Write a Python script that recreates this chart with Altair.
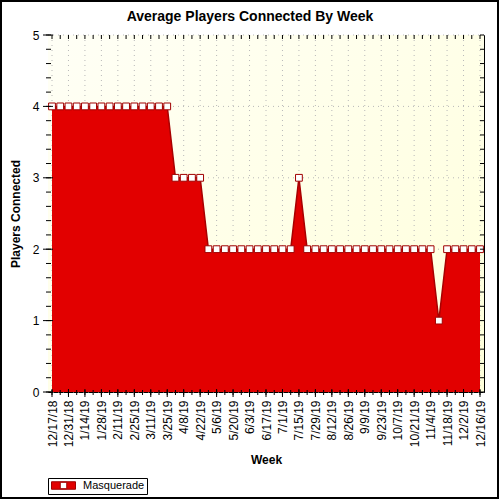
import altair as alt
import pandas as pd

# ---- data ----
weeks = ["12/17/18", "12/24/18", "12/31/18", "1/7/19", "1/14/19", "1/21/19", "1/28/19",
         "2/4/19", "2/11/19", "2/18/19", "2/25/19", "3/4/19", "3/11/19", "3/18/19", "3/25/19",
         "4/1/19", "4/8/19", "4/15/19", "4/22/19", "4/29/19", "5/6/19", "5/13/19", "5/20/19",
         "5/27/19", "6/3/19", "6/10/19", "6/17/19", "6/24/19", "7/1/19", "7/8/19", "7/15/19",
         "7/22/19", "7/29/19", "8/5/19", "8/12/19", "8/19/19", "8/26/19", "9/2/19", "9/9/19",
         "9/16/19", "9/23/19", "9/30/19", "10/7/19", "10/14/19", "10/21/19", "10/28/19",
         "11/4/19", "11/11/19", "11/18/19", "11/25/19", "12/2/19", "12/9/19", "12/16/19"]
players = [4, 4, 4, 4, 4, 4, 4, 4, 4, 4, 4, 4, 4, 4, 4,
           3, 3, 3, 3,
           2, 2, 2, 2, 2, 2, 2, 2, 2, 2, 2,
           3,
           2, 2, 2, 2, 2, 2, 2, 2, 2, 2, 2, 2, 2, 2, 2, 2,
           1,
           2, 2, 2, 2, 2]
series_name = "Masquerade"
y_major = [0, 1, 2, 3, 4, 5]
y_minor = [round(i * 0.2, 1) for i in range(26)]

W, H = 436, 357
df = pd.DataFrame({"idx": list(range(len(weeks))), "week": weeks,
                   "players": players, "series": series_name})
label_idx = list(range(0, len(weeks), 2))
df_major_x = pd.DataFrame({"idx": label_idx})
df_all_x = pd.DataFrame({"idx": list(range(len(weeks)))})
df_major_y = pd.DataFrame({"v": y_major})
df_minor_y = pd.DataFrame({"v": y_minor})

label_expr = "[" + ",".join("'" + w + "'" for w in weeks) + "][datum.value]"

font = "Liberation Sans"
xs = alt.Scale(domain=[0, len(weeks) - 1], nice=False, padding=4, zero=False)
ys = alt.Scale(domain=[0, 5], nice=False)
X_AX = alt.Axis(values=label_idx, labelExpr=label_expr, labelAngle=270,
                labelAlign="right", labelBaseline="middle", labelPadding=8,
                ticks=False, tickSize=0, grid=False, domainColor="black",
                title="Week", titleFontWeight="bold", titleFontSize=12,
                titlePadding=8, labelFont=font, labelFontSize=12, titleFont=font,
                labelColor="black", titleColor="black", labelFlush=False,
                labelOverlap=False)
Y_AX = alt.Axis(values=y_major, format="d", ticks=False, tickSize=0, grid=False,
                labelPadding=9, domainColor="black", title="Players Connected",
                titleFontWeight="bold", titleFontSize=12, titlePadding=10,
                labelFont=font, labelFontSize=12, titleFont=font,
                labelColor="black", titleColor="black", labelOverlap=False)


def X(field):
    return alt.X(field, scale=xs, axis=X_AX)


def Y(field):
    return alt.Y(field, scale=ys, axis=Y_AX)


bg = alt.Chart(pd.DataFrame({"a": [0]})).mark_rect(
    fill=alt.Gradient(gradient="linear", x1=0, x2=1, y1=0, y2=1,
                      stops=[alt.GradientStop(color="#FFFFF6", offset=0),
                             alt.GradientStop(color="#FFFFDA", offset=1)])
).encode(x=alt.value(0), x2=alt.value(W), y=alt.value(0), y2=alt.value(H))

vgrid = alt.Chart(df_major_x).mark_rule(color="#B8B8B8", strokeDash=[1, 4], strokeWidth=1).encode(
    x=X("idx:Q"), y=alt.value(0), y2=alt.value(H))
hgrid = alt.Chart(df_major_y).mark_rule(color="#B8B8B8", strokeDash=[1, 4], strokeWidth=1).encode(
    y=Y("v:Q"), x=alt.value(0), x2=alt.value(W))

area = alt.Chart(df).mark_area(opacity=1).encode(
    x=X("idx:Q"),
    y=Y("players:Q"),
    color=alt.Color("series:N", scale=alt.Scale(range=["#E20000"]),
                    legend=alt.Legend(
                        title=None, orient="none", legendX=0, legendY=443,
                        symbolType="M-2.4,-0.75H2.4V0.75H-2.4Z M-0.65,-0.65V0.65H0.65V-0.65Z",
                        symbolSize=100, symbolStrokeColor="#A00000", symbolStrokeWidth=1,
                        symbolOpacity=1,
                        labelFont=font, labelFontSize=11, labelColor="black",
                        strokeColor="black", padding=2, fillColor="white",
                        labelOffset=14, symbolOffset=8))
)

line = alt.Chart(df).mark_line(color="#A80000", strokeWidth=1.5).encode(
    x=X("idx:Q"), y=Y("players:Q"))

points = alt.Chart(df).mark_point(shape="square", filled=True, fill="white",
                                  stroke="#A00000", strokeWidth=1, size=46, opacity=1).encode(
    x=X("idx:Q"), y=Y("players:Q"))

# tick marks (crossing bottom/left axes, inward on top/right)
bt_major = alt.Chart(df_major_x).mark_rule(color="black").encode(
    x=X("idx:Q"), y=alt.value(H - 3), y2=alt.value(H + 5))
bt_all = alt.Chart(df_all_x).mark_rule(color="black").encode(
    x=X("idx:Q"), y=alt.value(H - 2), y2=alt.value(H + 3))
tt_all = alt.Chart(df_all_x).mark_rule(color="black").encode(
    x=X("idx:Q"), y=alt.value(0), y2=alt.value(4))
lt_major = alt.Chart(df_major_y).mark_rule(color="black").encode(
    y=Y("v:Q"), x=alt.value(-5), x2=alt.value(5))
lt_minor = alt.Chart(df_minor_y).mark_rule(color="black").encode(
    y=Y("v:Q"), x=alt.value(-2), x2=alt.value(3))
rt_minor = alt.Chart(df_minor_y).mark_rule(color="black").encode(
    y=Y("v:Q"), x=alt.value(W - 4), x2=alt.value(W))

frame = alt.Chart(pd.DataFrame({"a": [0]})).mark_rect(
    fill=None, stroke="black", strokeWidth=2, filled=False
).encode(x=alt.value(-47), x2=alt.value(450), y=alt.value(-34), y2=alt.value(463))

chart = alt.layer(bg, vgrid, hgrid, area, line, points,
                  bt_major, bt_all, tt_all, lt_major, lt_minor, rt_minor, frame).properties(
    width=W, height=H,
    title=alt.Title("Average Players Connected By Week", font=font, fontSize=14,
                    fontWeight="bold", color="black", anchor="middle", dx=-16, offset=-24,
                    frame="group"),
    autosize=alt.AutoSizeParams(type="none"),
    padding={"left": 48, "top": 35, "right": 16, "bottom": 108},
    background="white",
).configure_view(stroke="black", strokeWidth=1)

chart.save("out.html", embed_options={"renderer": "svg", "actions": False})
